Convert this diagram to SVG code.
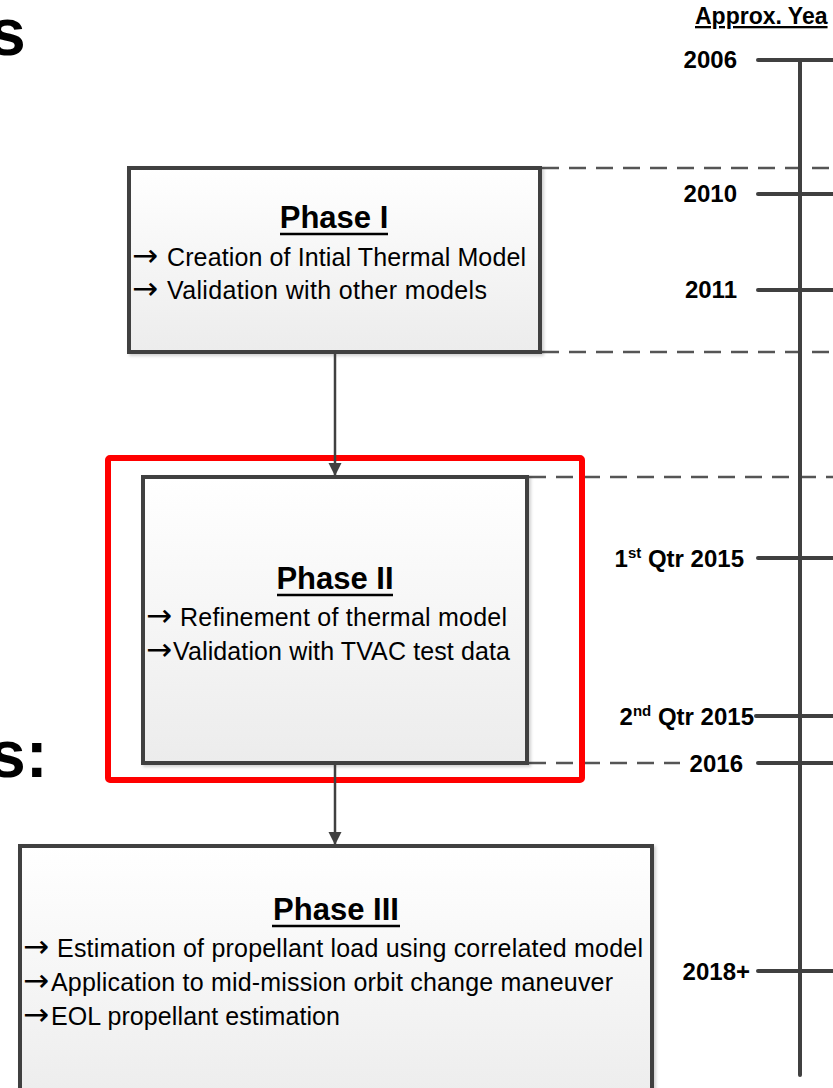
<svg xmlns="http://www.w3.org/2000/svg" width="833" height="1088" viewBox="0 0 833 1088">
<style>
.box{fill:url(#gfill);stroke:#404040;stroke-width:4;filter:url(#shadow)}
.dash{fill:none;stroke:#555;stroke-width:2.5;stroke-dasharray:17 10}
.tick{stroke:#404040;stroke-width:4;stroke-linecap:round}
.conn{stroke:#404040;stroke-width:2.5;fill:none}
.f{font-family:"Liberation Sans",Arial,sans-serif;fill:#000}
.lbl{font-weight:bold;font-size:24px;text-anchor:end}
.sup{font-size:15px}
.title{font-weight:bold;font-size:31px;text-anchor:middle}
.ul{stroke:#000;stroke-width:2.5}
.body{font-size:25px}
.ar{font-family:"DejaVu Sans",sans-serif;font-size:31px}
.big{font-weight:bold;font-size:66px}
</style>
<defs>
<linearGradient id="gfill" x1="0" y1="0" x2="0" y2="1">
<stop offset="0" stop-color="#ffffff"/>
<stop offset="1" stop-color="#ececec"/>
</linearGradient>
<filter id="shadow" x="-5%" y="-5%" width="115%" height="115%">
<feDropShadow dx="2" dy="2" stdDeviation="1.5" flood-color="#000" flood-opacity="0.18"/>
</filter>
<marker id="ah" markerUnits="userSpaceOnUse" markerWidth="14" markerHeight="14" viewBox="0 0 14 14" refX="13" refY="7" orient="auto">
<path d="M0,0.5 L13,7 L0,13.5 Z" fill="#404040"/>
</marker>
</defs>

<g id="fragments">
<text class="f big" x="-11" y="55">s</text>
<text class="f big" x="-11" y="777">s:</text>
</g>

<g id="guides">
<line class="dash" x1="542" y1="168" x2="833" y2="168"/>
<line class="dash" x1="542" y1="352" x2="833" y2="352"/>
<line class="dash" x1="529" y1="477" x2="833" y2="477"/>
<line class="dash" x1="529" y1="763" x2="680" y2="763"/>
</g>

<g id="timeline">
<text class="f" x="695" y="24" font-weight="bold" font-size="23" text-decoration="underline">Approx. Yea</text>
<line class="tick" x1="800" y1="60" x2="800" y2="1075"/>
<line class="tick" x1="758" y1="60" x2="840" y2="60"/>
<line class="tick" x1="758" y1="194" x2="840" y2="194"/>
<line class="tick" x1="758" y1="290" x2="840" y2="290"/>
<line class="tick" x1="758" y1="558" x2="840" y2="558"/>
<line class="tick" x1="756" y1="716" x2="840" y2="716"/>
<line class="tick" x1="758" y1="763" x2="840" y2="763"/>
<line class="tick" x1="758" y1="971" x2="840" y2="971"/>
<text class="f lbl" x="737" y="68">2006</text>
<text class="f lbl" x="737" y="202">2010</text>
<text class="f lbl" x="737" y="298">2011</text>
<text class="f lbl" x="744" y="567">1<tspan class="sup" dy="-9">st</tspan><tspan dy="9"> Qtr 2015</tspan></text>
<text class="f lbl" x="754" y="725">2<tspan class="sup" dy="-9">nd</tspan><tspan dy="9"> Qtr 2015</tspan></text>
<text class="f lbl" x="743" y="772">2016</text>
<text class="f lbl" x="750" y="980">2018+</text>
</g>

<g id="phase1">
<rect class="box" x="129" y="168" width="411" height="184"/>
<text class="f title" x="334" y="228">Phase I</text>
<line class="ul" x1="280" y1="234" x2="388" y2="234"/>
<text class="f body" y="266"><tspan class="ar" x="132">→</tspan><tspan x="167" textLength="359">Creation of Intial Thermal Model</tspan></text>
<text class="f body" y="299"><tspan class="ar" x="132">→</tspan><tspan x="167" textLength="320">Validation with other models</tspan></text>
</g>

<g id="phase2">
<rect class="box" x="143" y="477" width="384" height="286"/>
<text class="f title" x="335" y="589">Phase II</text>
<line class="ul" x1="277" y1="595" x2="393" y2="595"/>
<text class="f body" y="626"><tspan class="ar" x="146">→</tspan><tspan x="180" textLength="327">Refinement of thermal model</tspan></text>
<text class="f body" y="660"><tspan class="ar" x="146">→</tspan><tspan x="173" textLength="337">Validation with TVAC test data</tspan></text>
</g>

<g id="phase3">
<rect class="box" x="20" y="846" width="632" height="262"/>
<text class="f title" x="336" y="920">Phase III</text>
<line class="ul" x1="272" y1="926" x2="400" y2="926"/>
<text class="f body" y="957"><tspan class="ar" x="23">→</tspan><tspan x="57" textLength="586">Estimation of propellant load using correlated model</tspan></text>
<text class="f body" y="991"><tspan class="ar" x="23">→</tspan><tspan x="51" textLength="562">Application to mid-mission orbit change maneuver</tspan></text>
<text class="f body" y="1025"><tspan class="ar" x="23">→</tspan><tspan x="51" textLength="289">EOL propellant estimation</tspan></text>
</g>

<g id="highlight">
<rect x="108" y="458" width="474" height="322" rx="2" fill="none" stroke="#ff0000" stroke-width="6"/>
</g>

<g id="connectors">
<line class="conn" x1="335" y1="354" x2="335" y2="476" marker-end="url(#ah)"/>
<line class="conn" x1="335" y1="765" x2="335" y2="845" marker-end="url(#ah)"/>
</g>
</svg>
